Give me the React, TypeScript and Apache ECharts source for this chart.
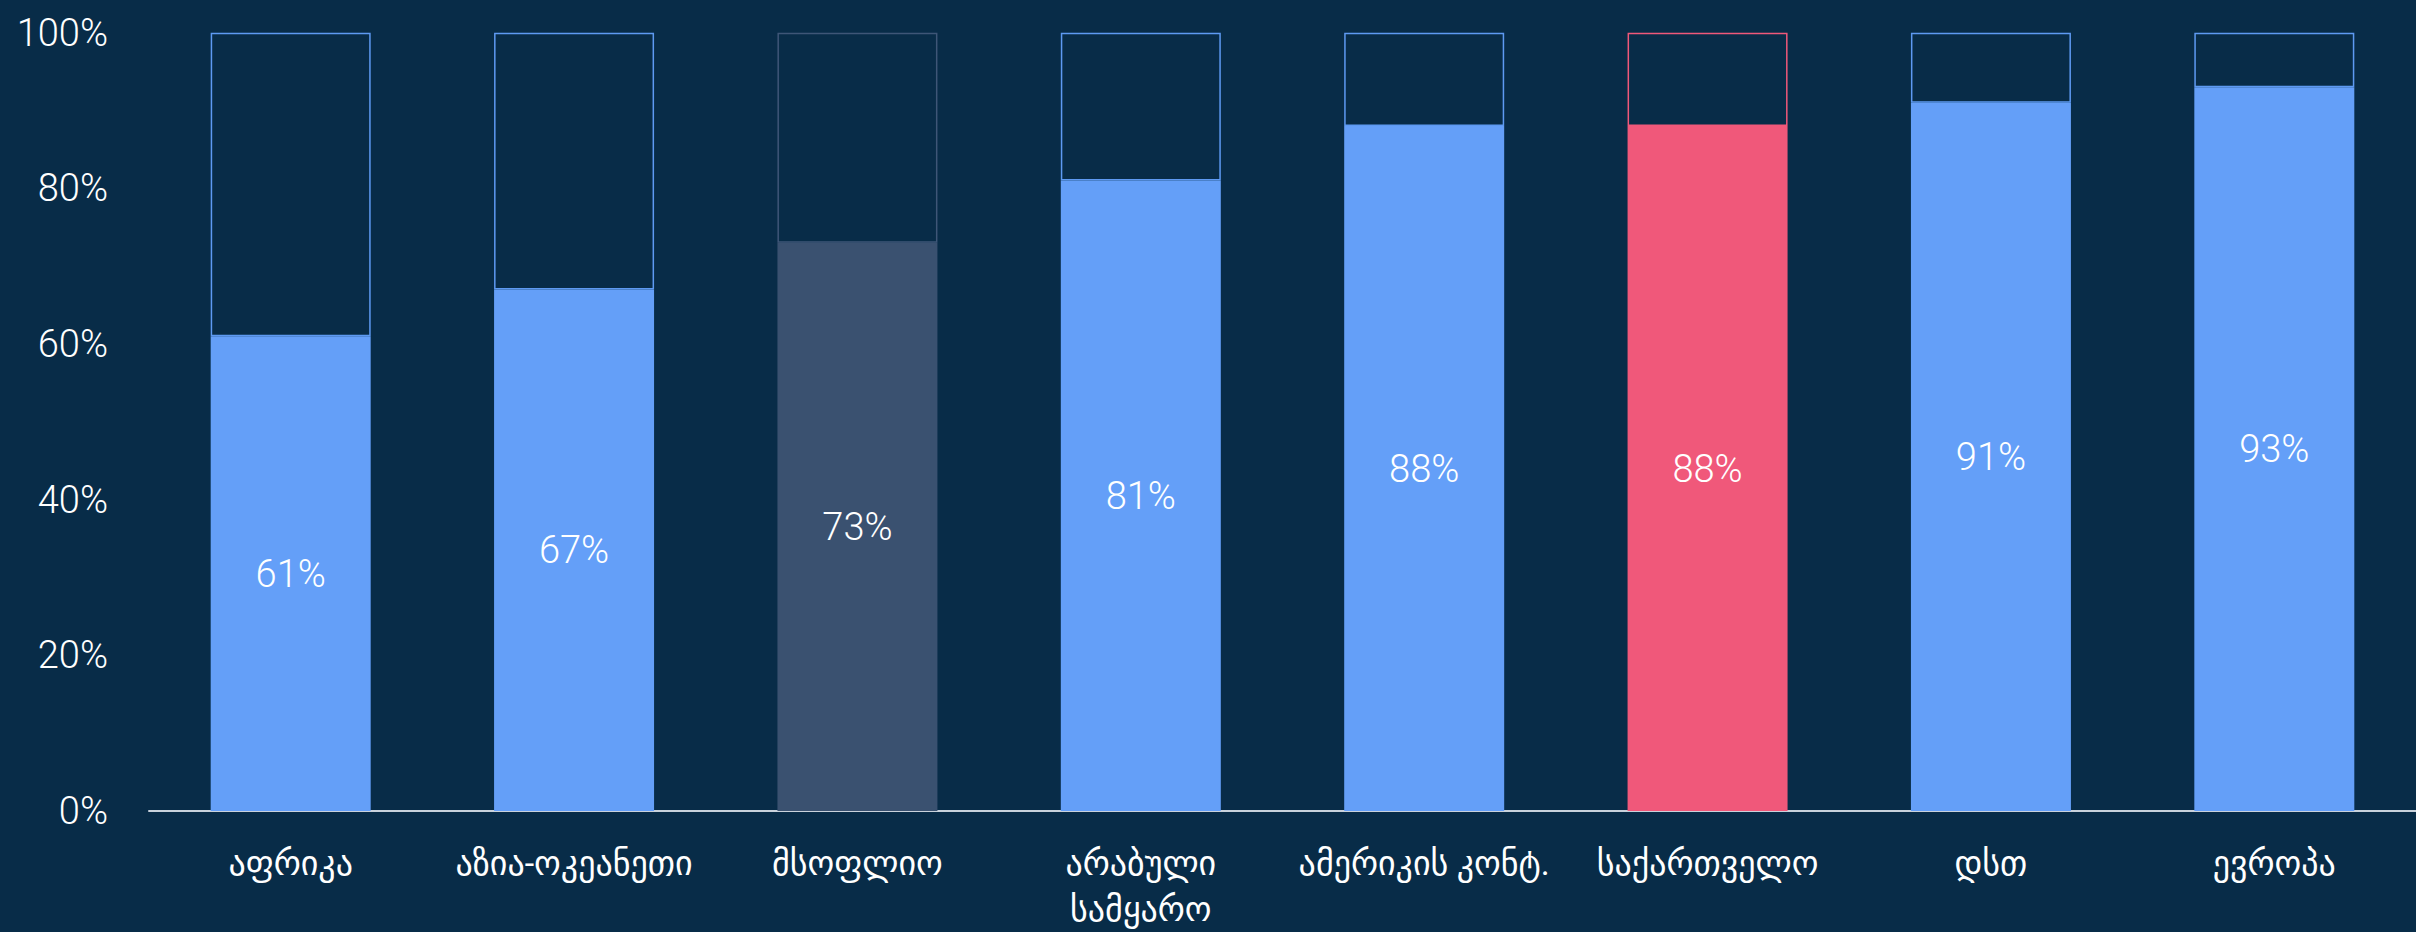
import React, { useEffect, useRef } from "react";
import * as echarts from "echarts";

const categories = [
  "აფრიკა",
  "აზია-ოკეანეთი",
  "მსოფლიო",
  "არაბული\nსამყარო",
  "ამერიკის კონტ.",
  "საქართველო",
  "დსთ",
  "ევროპა",
];
const values = [61, 67, 73, 81, 88, 88, 91, 93];
const yTicks = [0, 20, 40, 60, 80, 100];

const BLUE = "#649FF8";
const GREY = "#3A5170";
const PINK = "#F0587A";
const colorFor = (cat: string) =>
  cat === "მსოფლიო" ? GREY : cat === "საქართველო" ? PINK : BLUE;
const borderFor = (cat: string) =>
  cat === "მსოფლიო" ? "#3E5677" : cat === "საქართველო" ? "#F0587A" : "#5E9AF2";

export default function App() {
  const ref = useRef<HTMLDivElement>(null);
  useEffect(() => {
    document.body.style.margin = "0";
    const chart = echarts.init(ref.current!, null, { renderer: "svg" });
    const font = "Roboto, 'DejaVu Sans', sans-serif";
    chart.setOption({
      animation: false,
      backgroundColor: "#082C48",
      grid: { left: 149, width: 2277, top: 32.7, height: 785.6, containLabel: false },
      xAxis: {
        type: "category",
        data: categories,
        axisLine: { show: true, lineStyle: { color: "#C9D2DC", width: 2 } },
        axisTick: { show: false },
        axisLabel: {
          color: "#FFFFFF",
          fontFamily: font,
          fontSize: 34,
          lineHeight: 46,
          margin: 29,
          interval: 0,
        },
      },
      yAxis: {
        type: "value",
        min: yTicks[0],
        max: yTicks[yTicks.length - 1],
        interval: yTicks[1] - yTicks[0],
        splitLine: { show: false },
        axisLine: { show: false },
        axisTick: { show: false },
        axisLabel: {
          color: "#FFFFFF",
          fontFamily: font,
          fontWeight: 300,
          fontSize: 38,
          margin: 41,
          formatter: "{value}%",
        },
      },
      series: [
        {
          type: "bar",
          stack: "total",
          barWidth: 160,
          data: values.map((v, i) => ({
            value: v,
            itemStyle: { color: colorFor(categories[i]) },
          })),
          label: {
            show: true,
            position: "inside",
            color: "#FFFFFF",
            fontFamily: font,
            fontWeight: 300,
            fontSize: 38,
            formatter: "{c}%",
          },
        },
        {
          type: "bar",
          stack: "total",
          barWidth: 160,
          data: values.map((v, i) => ({
            value: 100 - v,
            itemStyle: {
              color: "rgba(0,0,0,0)",
              borderColor: borderFor(categories[i]),
              borderWidth: 1.5,
            },
          })),
          label: { show: false },
          silent: true,
        },
      ],
    });
    return () => chart.dispose();
  }, []);
  return <div ref={ref} style={{ width: 2416, height: 932 }} />;
}
